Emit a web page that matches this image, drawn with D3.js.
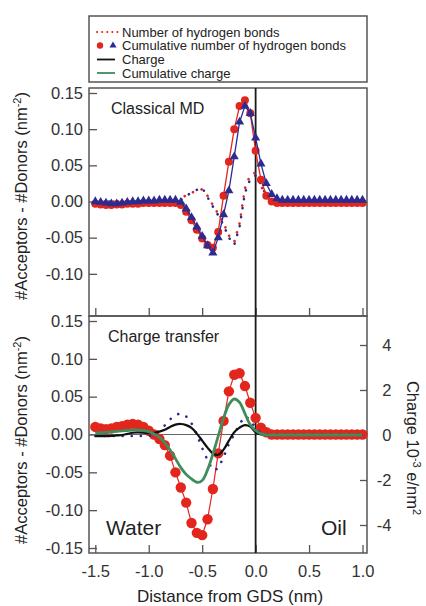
<!DOCTYPE html>
<html>
<head>
<meta charset="utf-8">
<script src="https://cdnjs.cloudflare.com/ajax/libs/d3/7.8.5/d3.min.js"></script>
<style>
body { margin: 0; background: #fff; }
svg { display: block; font-family: "Liberation Sans", Arial, sans-serif; }
</style>
</head>
<body>
<svg width="426" height="606"></svg>
<script>
const xs = [-1.5,-1.45,-1.4,-1.35,-1.3,-1.25,-1.2,-1.15,-1.1,-1.05,-1.0,-0.95,-0.9,-0.85,-0.8,-0.75,-0.7,-0.65,-0.6,-0.55,-0.5,-0.45,-0.4,-0.35,-0.3,-0.25,-0.2,-0.15,-0.1,-0.05,0,0.05,0.1,0.15,0.2,0.25,0.3,0.35,0.4,0.45,0.5,0.55,0.6,0.65,0.7,0.75,0.8,0.85,0.9,0.95,1.0];

// classical MD panel
const mdCumRed = [-0.003,-0.004,-0.005,-0.005,-0.004,-0.004,-0.003,-0.003,-0.003,-0.002,-0.002,-0.002,-0.002,-0.002,-0.002,-0.002,-0.005,-0.014,-0.026,-0.039,-0.051,-0.06,-0.064,-0.042,0.008,0.055,0.1,0.132,0.14,0.122,0.07,0.03,0.008,0.0,-0.002,-0.002,-0.002,-0.002,-0.002,-0.002,-0.002,-0.002,-0.002,-0.002,-0.002,-0.002,-0.002,-0.002,-0.002,-0.002,-0.002];
const mdCumBlue = [0.0,-0.001,-0.002,-0.003,-0.003,-0.002,-0.001,0.0,0.0,0.001,0.001,0.001,0.002,0.002,0.002,0.002,-0.001,-0.01,-0.022,-0.035,-0.048,-0.061,-0.071,-0.05,-0.018,0.015,0.062,0.11,0.132,0.122,0.088,0.052,0.025,0.01,0.004,0.002,0.002,0.002,0.002,0.002,0.002,0.002,0.002,0.002,0.002,0.002,0.002,0.002,0.002,0.002,0.002];
const mdNumRed = [0,0,0,0,0,0,0,0,0,0,0,0,0,0,0,0,0.003,0.009,0.012,0.015,0.017,0.008,-0.005,-0.017,-0.03,-0.047,-0.056,-0.03,0.018,0.037,0.04,0.022,0.006,0,0,0,0,0,0,0,0,0,0,0,0,0,0,0,0,0,0];
const mdNumBlue = [0,0,0,0,0,0,0,0,0,0,0,0,0,0,0,0,0.002,0.008,0.012,0.016,0.019,0.006,-0.007,-0.019,-0.033,-0.05,-0.06,-0.035,0.012,0.031,0.036,0.024,0.008,0,0,0,0,0,0,0,0,0,0,0,0,0,0,0,0,0,0];

// charge transfer panel
const ctCumRed = [0.01,0.008,0.007,0.008,0.01,0.011,0.013,0.014,0.013,0.01,0.005,0.0,-0.006,-0.014,-0.028,-0.05,-0.07,-0.09,-0.117,-0.13,-0.133,-0.112,-0.072,-0.025,0.018,0.057,0.079,0.081,0.064,0.042,0.022,0.009,0.003,0,0,0,0,0,0,0,0,0,0,0,0,0,0,0,0,0,0];
const ctNumBlue = [-0.002,-0.002,-0.002,-0.002,-0.002,-0.002,-0.002,-0.002,-0.002,-0.002,-0.002,0.0,0.005,0.012,0.02,0.026,0.028,0.024,0.015,0.0,-0.018,-0.034,-0.047,-0.045,-0.03,-0.012,0.0,0.014,0.024,0.02,0.008,0.002,0,0,0,0,0,0,0,0,0,0,0,0,0,0,0,0,0,0,0];
const ctCharge = [-0.05,-0.05,-0.05,-0.04,-0.02,0.0,0.05,0.1,0.12,0.1,0.08,0.1,0.15,0.23,0.36,0.46,0.49,0.44,0.32,0.06,-0.25,-0.56,-0.82,-0.88,-0.65,-0.25,0.12,0.33,0.44,0.37,0.12,0.02,0,0,0,0,0,0,0,0,0,0,0,0,0,0,0,0,0,0,0];
const ctCumCharge = [0.08,0.1,0.12,0.14,0.16,0.18,0.2,0.22,0.22,0.2,0.15,0.05,-0.1,-0.35,-0.67,-1.05,-1.45,-1.75,-1.95,-2.1,-2.02,-1.55,-0.85,-0.05,0.75,1.35,1.6,1.45,0.95,0.45,0.2,0.06,0,0,0,0,0,0,0,0,0,0,0,0,0,0,0,0,0,0,0];

const xTicks = [-1.5, -1.0, -0.5, 0.0, 0.5, 1.0];
const xTickLabels = ["-1.5", "-1.0", "-0.5", "0.0", "0.5", "1.0"];
const yTicksTop = [0.15, 0.10, 0.05, 0.0, -0.05, -0.10];
const yTicksBot = [0.15, 0.10, 0.05, 0.0, -0.05, -0.10, -0.15];
const yTickLabels = ["0.15", "0.10", "0.05", "0.00", "-0.05", "-0.10", "-0.15"];
const qTicks = [4, 2, 0, -2, -4];
const qTickLabels = ["4", "2", "0", "-2", "-4"];
const legendLabels = ["Number of hydrogen bonds", "Cumulative number of hydrogen bonds", "Charge", "Cumulative charge"];

const RED = "#e3261d", BLUE = "#2b2c92", GREEN = "#3f8c5c", AX = "#555";

const svg = d3.select("svg");
const L = 89, R = 367, T1 = 88, M = 316, B = 553;

const x = d3.scaleLinear().domain([-1.5, 1.0]).range([95.3, 362.5]);
const yTop = d3.scaleLinear().domain([-0.15, 0.15]).range([310, 93]);
const yBot = d3.scaleLinear().domain([-0.15, 0.15]).range([548, 321]);
const yQ = d3.scaleLinear().domain([-4, 4]).range([525, 345]);

// legend
const lg = svg.append("g");
lg.append("rect").attr("x", 89).attr("y", 16).attr("width", 278).attr("height", 66)
  .attr("fill", "none").attr("stroke", AX).attr("stroke-width", 1.5);
const rowY = [32, 45.5, 59.5, 73];
lg.selectAll("text").data(legendLabels).join("text")
  .attr("x", 122).attr("y", (d, i) => rowY[i] + 4.5)
  .attr("font-size", 13).attr("fill", "#222").text(d => d);
lg.append("line").attr("x1", 97).attr("x2", 119).attr("y1", rowY[0]).attr("y2", rowY[0])
  .attr("stroke", RED).attr("stroke-width", 2).attr("stroke-linecap", "round").attr("stroke-dasharray", "0.1 5");
lg.append("circle").attr("cx", 100).attr("cy", rowY[1]).attr("r", 3.2).attr("fill", RED);
lg.append("path").attr("d", d3.symbol(d3.symbolTriangle, 22)()).attr("transform", `translate(113,${rowY[1]})`).attr("fill", BLUE);
lg.append("line").attr("x1", 97).attr("x2", 115).attr("y1", rowY[2]).attr("y2", rowY[2]).attr("stroke", "#111").attr("stroke-width", 1.8);
lg.append("line").attr("x1", 97).attr("x2", 115).attr("y1", rowY[3]).attr("y2", rowY[3]).attr("stroke", GREEN).attr("stroke-width", 1.8);

// frames
svg.append("rect").attr("x", L).attr("y", T1).attr("width", R - L).attr("height", M - T1)
  .attr("fill", "none").attr("stroke", AX).attr("stroke-width", 1.5);
svg.append("rect").attr("x", L).attr("y", M).attr("width", R - L).attr("height", B - M)
  .attr("fill", "none").attr("stroke", AX).attr("stroke-width", 1.5);

function styleAxis(g) {
  g.select(".domain").remove();
  g.selectAll(".tick line").attr("stroke", AX).attr("stroke-width", 1.3);
  g.selectAll(".tick text").attr("fill", "#333").attr("font-size", 16.5)
    .attr("font-family", '"Liberation Sans", Arial, sans-serif');
}

svg.append("g").attr("transform", `translate(${L},0)`)
  .call(d3.axisLeft(yTop).tickValues(yTicksTop).tickSize(-8).tickPadding(6).tickFormat((d, i) => yTickLabels[i]))
  .call(styleAxis);
svg.append("g").attr("transform", `translate(${L},0)`)
  .call(d3.axisLeft(yBot).tickValues(yTicksBot).tickSize(-8).tickPadding(6).tickFormat((d, i) => yTickLabels[i]))
  .call(styleAxis);
svg.append("g").attr("transform", `translate(0,${M})`)
  .call(d3.axisBottom(x).tickValues(xTicks).tickSize(-8).tickFormat(""))
  .call(styleAxis);
svg.append("g").attr("transform", `translate(0,${B})`)
  .call(d3.axisBottom(x).tickValues(xTicks).tickSize(-8).tickPadding(12).tickFormat((d, i) => xTickLabels[i]))
  .call(styleAxis);
svg.append("g").attr("transform", `translate(${R},0)`)
  .call(d3.axisRight(yQ).tickValues(qTicks).tickSize(-7).tickFormat((d, i) => qTickLabels[i]))
  .call(styleAxis)
  .call(g => g.selectAll(".tick text").attr("text-anchor", "end").attr("x", 24.5));

// zero lines
svg.append("line").attr("x1", L).attr("x2", R).attr("y1", yBot(0)).attr("y2", yBot(0))
  .attr("stroke", "#666").attr("stroke-width", 1.2);
svg.append("line").attr("x1", x(0)).attr("x2", x(0)).attr("y1", T1).attr("y2", B)
  .attr("stroke", "#1a1a1a").attr("stroke-width", 1.8);

// classical MD
const lineTop = d3.line().x((d, i) => x(xs[i])).y(d => yTop(d));
const lineBot = d3.line().x((d, i) => x(xs[i])).y(d => yBot(d));
const lineQ = d3.line().x((d, i) => x(xs[i])).y(d => yQ(d)).curve(d3.curveCatmullRom);

const dotted = (sel, color) => sel.attr("fill", "none").attr("stroke", color).attr("stroke-width", 2.6)
  .attr("stroke-linecap", "round").attr("stroke-dasharray", "0.1 9");

svg.append("path").datum(mdNumRed).attr("d", lineTop).call(dotted, RED);
svg.append("path").datum(mdNumBlue).attr("d", lineTop).attr("stroke-dashoffset", 4.5).call(dotted, BLUE);

svg.append("path").datum(mdCumRed).attr("d", lineTop).attr("fill", "none").attr("stroke", RED).attr("stroke-width", 1.3);
svg.append("g").selectAll("circle").data(mdCumRed).join("circle")
  .attr("cx", (d, i) => x(xs[i])).attr("cy", d => yTop(d)).attr("r", 4).attr("fill", RED);
svg.append("path").datum(mdCumBlue).attr("d", lineTop).attr("fill", "none").attr("stroke", BLUE).attr("stroke-width", 1.3);
svg.append("g").selectAll("path").data(mdCumBlue).join("path")
  .attr("d", d3.symbol(d3.symbolTriangle, 36)())
  .attr("transform", (d, i) => `translate(${x(xs[i])},${yTop(d)})`).attr("fill", BLUE);

// charge transfer
svg.append("path").datum(ctCumRed).attr("d", lineBot).attr("fill", "none").attr("stroke", RED).attr("stroke-width", 1.2);
svg.append("g").selectAll("circle").data(ctCumRed).join("circle")
  .attr("cx", (d, i) => x(xs[i])).attr("cy", d => yBot(d)).attr("r", 5.2).attr("fill", RED);
svg.append("path").datum(ctNumBlue).attr("d", lineBot).call(dotted, BLUE);
svg.append("path").datum(ctCharge).attr("d", lineQ).attr("fill", "none").attr("stroke", "#111").attr("stroke-width", 2.2);
svg.append("path").datum(ctCumCharge).attr("d", lineQ).attr("fill", "none").attr("stroke", GREEN).attr("stroke-width", 2.8);

// texts
const txt = (xx, yy, s, size) => svg.append("text").attr("x", xx).attr("y", yy)
  .attr("font-size", size).attr("fill", "#222").text(s);
txt(111, 114, "Classical MD", 16);
txt(108, 342, "Charge transfer", 16);
txt(106, 535, "Water", 21);
txt(321, 535, "Oil", 21);

svg.append("text").attr("x", 230).attr("y", 602).attr("text-anchor", "middle")
  .attr("font-size", 17).attr("fill", "#222").text("Distance from GDS (nm)");

function yTitle(cy) {
  const t = svg.append("text").attr("transform", `translate(27,${cy}) rotate(-90)`)
    .attr("text-anchor", "middle").attr("font-size", 16.5).attr("fill", "#222");
  t.append("tspan").text("#Acceptors - #Donors (nm");
  t.append("tspan").attr("dy", -6).attr("font-size", 11).text("-2");
  t.append("tspan").attr("dy", 6).text(")");
}
yTitle(196);
yTitle(440);

const rt = svg.append("text").attr("transform", "translate(407,448) rotate(90)")
  .attr("text-anchor", "middle").attr("font-size", 16.5).attr("fill", "#222");
rt.append("tspan").text("Charge 10");
rt.append("tspan").attr("dy", -6).attr("font-size", 11).text("-3");
rt.append("tspan").attr("dy", 6).text(" e/nm");
rt.append("tspan").attr("dy", -6).attr("font-size", 11).text("2");
</script>
</body>
</html>
